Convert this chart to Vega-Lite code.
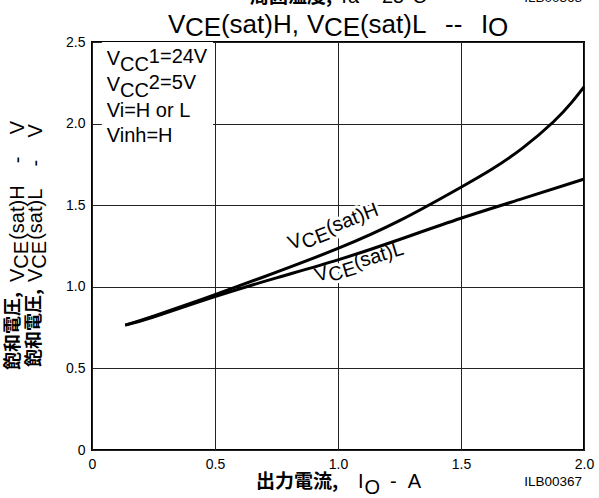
{
  "$schema": "https://vega.github.io/schema/vega-lite/v6.json",
  "width": 492,
  "height": 408,
  "autosize": {"type": "none"},
  "padding": {"left": 92, "top": 42, "right": 15, "bottom": 48},
  "background": "white",
  "config": {
    "font": "Liberation Sans",
    "view": {"stroke": "#000", "strokeWidth": 2},
    "axis": {"labelFont": "Liberation Sans", "labelColor": "#000", "labelFontSize": 14, "gridColor": "#222", "gridWidth": 1, "ticks": false, "domain": false, "title": null, "labelPadding": 7, "labelFlush": false}
  },
  "encoding": {
    "x": {"field": "x", "type": "quantitative", "scale": {"domain": [0, 2], "nice": false, "zero": false},
      "axis": {"values": [0, 0.5, 1, 1.5, 2], "labelExpr": "datum.value == 0 ? '0' : format(datum.value, '.1f')", "grid": true, "labelFlush": false}},
    "y": {"field": "y", "type": "quantitative", "scale": {"domain": [0, 2.5], "nice": false, "zero": false},
      "axis": {"values": [0, 0.5, 1, 1.5, 2, 2.5], "labelExpr": "datum.value == 0 ? '0' : format(datum.value, '.1f')", "grid": true, "labelFlush": false}}
  },
  "layer": [
    {
      "data": {"values": [{"x": 0.04, "x2": 0.492, "y": 1.82, "y2": 2.5}]},
      "mark": {"type": "rect", "fill": "white", "stroke": null},
      "encoding": {"x2": {"field": "x2"}, "y2": {"field": "y2"}}
    },
    {
      "data": {"values": [
        {"x": 0.809, "y": 1.225, "t": "V"},
        {"x": 0.865, "y": 1.232, "t": "CE"},
        {"x": 0.963, "y": 1.321, "t": "(sat)H"}
      ]},
      "mark": {"type": "text", "angle": 339, "align": "left", "baseline": "alphabetic", "fontSize": 20, "fill": "white", "stroke": "white", "strokeWidth": 6, "strokeJoin": "round"},
      "encoding": {"text": {"field": "t"}}
    },
    {
      "data": {"values": [
        {"x": 0.915, "y": 1.029, "t": "V"},
        {"x": 0.971, "y": 1.03, "t": "CE"},
        {"x": 1.073, "y": 1.109, "t": "(sat)L"}
      ]},
      "mark": {"type": "text", "angle": 343, "align": "left", "baseline": "alphabetic", "fontSize": 20, "fill": "white", "stroke": "white", "strokeWidth": 6, "strokeJoin": "round"},
      "encoding": {"text": {"field": "t"}}
    },
    {
      "data": {"values": [
        {"s": "H", "x": 0.135, "y": 0.765},
        {"s": "H", "x": 0.25, "y": 0.82},
        {"s": "H", "x": 0.5, "y": 0.952},
        {"s": "H", "x": 0.75, "y": 1.09},
        {"s": "H", "x": 1.0, "y": 1.235},
        {"s": "H", "x": 1.25, "y": 1.405},
        {"s": "H", "x": 1.5, "y": 1.61},
        {"s": "H", "x": 1.625, "y": 1.72},
        {"s": "H", "x": 1.75, "y": 1.85},
        {"s": "H", "x": 1.875, "y": 2.01},
        {"s": "H", "x": 1.95, "y": 2.13},
        {"s": "H", "x": 2.0, "y": 2.225},
        {"s": "L", "x": 0.135, "y": 0.765},
        {"s": "L", "x": 0.25, "y": 0.815},
        {"s": "L", "x": 0.5, "y": 0.94},
        {"s": "L", "x": 0.75, "y": 1.055},
        {"s": "L", "x": 1.0, "y": 1.165},
        {"s": "L", "x": 1.25, "y": 1.29},
        {"s": "L", "x": 1.5, "y": 1.42},
        {"s": "L", "x": 1.75, "y": 1.54},
        {"s": "L", "x": 2.0, "y": 1.66}
      ]},
      "mark": {"type": "line", "color": "#000", "strokeWidth": 3, "interpolate": "natural"},
      "encoding": {"detail": {"field": "s"}}
    },
    {
      "data": {"values": [
        {"x": 0.809, "y": 1.225, "t": "V"},
        {"x": 0.865, "y": 1.232, "t": "CE"},
        {"x": 0.963, "y": 1.321, "t": "(sat)H"}
      ]},
      "mark": {"type": "text", "angle": 339, "align": "left", "baseline": "alphabetic", "fontSize": 20, "color": "#000"},
      "encoding": {"text": {"field": "t"}}
    },
    {
      "data": {"values": [
        {"x": 0.915, "y": 1.029, "t": "V"},
        {"x": 0.971, "y": 1.03, "t": "CE"},
        {"x": 1.073, "y": 1.109, "t": "(sat)L"}
      ]},
      "mark": {"type": "text", "angle": 343, "align": "left", "baseline": "alphabetic", "fontSize": 20, "color": "#000"},
      "encoding": {"text": {"field": "t"}}
    },
    {
      "data": {"values": [
        {"x": 0.309, "y": 2.555, "t": "V"},
        {"x": 0.378, "y": 2.534, "t": "CE"},
        {"x": 0.524, "y": 2.555, "t": "(sat)H,"},
        {"x": 0.874, "y": 2.555, "t": "V"},
        {"x": 0.943, "y": 2.534, "t": "CE"},
        {"x": 1.089, "y": 2.555, "t": "(sat)L"},
        {"x": 1.435, "y": 2.555, "t": "--"},
        {"x": 1.581, "y": 2.555, "t": "I"},
        {"x": 1.61, "y": 2.534, "t": "O"}
      ]},
      "mark": {"type": "text", "align": "left", "baseline": "alphabetic", "fontSize": 26, "color": "#000"},
      "encoding": {"text": {"field": "t"}}
    },
    {
      "data": {"values": [
        {"x": 0.06, "y": 2.359, "t": "V"},
        {"x": 0.114, "y": 2.322, "t": "CC"},
        {"x": 0.231, "y": 2.371, "t": "1=24V"},
        {"x": 0.06, "y": 2.2, "t": "V"},
        {"x": 0.114, "y": 2.163, "t": "CC"},
        {"x": 0.231, "y": 2.212, "t": "2=5V"},
        {"x": 0.06, "y": 2.043, "t": "Vi=H or L"},
        {"x": 0.06, "y": 1.887, "t": "Vinh=H"},
        {"x": 1.081, "y": -0.233, "t": "I"},
        {"x": 1.108, "y": -0.27, "t": "O"},
        {"x": 1.211, "y": -0.233, "t": "-\u00a0\u00a0A"},
        {"x": 1.0, "y": 2.739, "t": "Ta = 25°C"}
      ]},
      "mark": {"type": "text", "align": "left", "baseline": "alphabetic", "fontSize": 20, "color": "#000"},
      "encoding": {"text": {"field": "t"}}
    },
    {
      "data": {"values": [
        {"x": 0.667, "y": -0.233, "t": "出力電流,"},
        {"x": 0.642, "y": 2.739, "t": "周囲温度,"}
      ]},
      "mark": {"type": "text", "align": "left", "baseline": "alphabetic", "fontSize": 19, "font": "Noto Sans CJK JP", "fontWeight": "bold", "color": "#000"},
      "encoding": {"text": {"field": "t"}}
    },
    {
      "data": {"values": [
        {"x": 1.992, "y": -0.221, "t": "ILB00367"},
        {"x": 1.992, "y": 2.745, "t": "ILB00368"}
      ]},
      "mark": {"type": "text", "align": "right", "baseline": "alphabetic", "fontSize": 13.5, "color": "#000"},
      "encoding": {"text": {"field": "t"}}
    },
    {
      "data": {"values": [
        {"x": -0.297, "y": 0.49, "t": "飽和電圧,"},
        {"x": -0.211, "y": 0.509, "t": "飽和電圧,"}
      ]},
      "mark": {"type": "text", "angle": 270, "align": "left", "baseline": "alphabetic", "fontSize": 18, "font": "Noto Sans CJK JP", "fontWeight": "bold", "color": "#000"},
      "encoding": {"text": {"field": "t"}}
    },
    {
      "data": {"values": [
        {"x": -0.276, "y": 1.029, "t": "V"},
        {"x": -0.26, "y": 1.111, "t": "CE"},
        {"x": -0.276, "y": 1.288, "t": "(sat)H\u00a0\u00a0\u00a0\u00a0-\u00a0\u00a0\u00a0\u00a0V"},
        {"x": -0.203, "y": 1.029, "t": "V"},
        {"x": -0.187, "y": 1.111, "t": "CE"},
        {"x": -0.203, "y": 1.288, "t": "(sat)L\u00a0\u00a0\u00a0\u00a0-\u00a0\u00a0\u00a0\u00a0V"}
      ]},
      "mark": {"type": "text", "angle": 270, "align": "left", "baseline": "alphabetic", "fontSize": 20, "color": "#000"},
      "encoding": {"text": {"field": "t"}}
    }
  ]
}
